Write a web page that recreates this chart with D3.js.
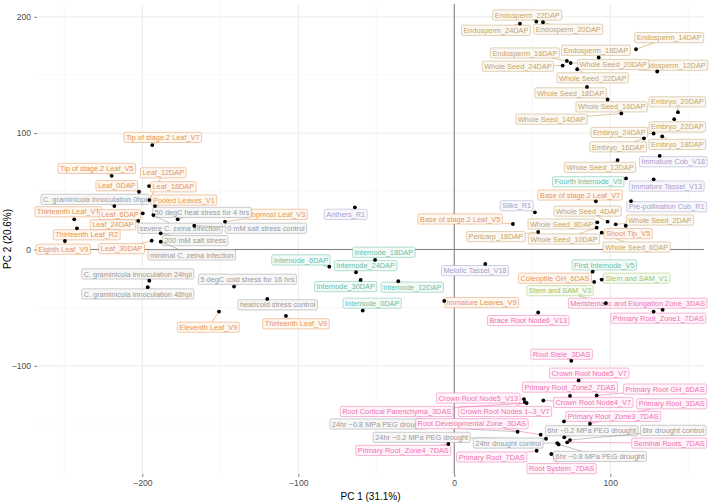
<!DOCTYPE html>
<html><head><meta charset="utf-8">
<script src="https://cdn.jsdelivr.net/npm/d3@7"></script>
<style>body{margin:0;background:#fff} svg{display:block;font-family:"Liberation Sans",Arial,Helvetica,sans-serif}</style>
</head><body><svg id="c" width="709" height="503"></svg>
<script>
// ---- data ----
const samples = [
"Endosperm_22DAP","Endosperm_20DAP","Endosperm_24DAP","Endosperm_14DAP","Endosperm_18DAP","Endosperm_16DAP","Endosperm_12DAP",
"Whole Seed_20DAP","Whole Seed_24DAP","Whole Seed_22DAP","Whole Seed_18DAP","Whole Seed_16DAP","Whole Seed_14DAP",
"Embryo_20DAP","Embryo_22DAP","Embryo_24DAP","Embryo_16DAP","Embryo_18DAP","Whole Seed_12DAP","Whole Seed_4DAP",
"Whole Seed_2DAP","Whole Seed_8DAP","Pericarp_18DAP","Whole Seed_10DAP","Whole Seed_6DAP",
"Immature Cob_V18","Immature Tassel_V13","Pre-pollination Cob_R1","Silks_R1","Meiotic Tassel_V18","Anthers_R1",
"Fourth Internode_V9","First Internode_V5","Internode_6DAP","Internode_18DAP","Internode_24DAP","Internode_30DAP","Internode_12DAP","Internode_0DAP",
"Stem and SAM_V1","Stem and SAM_V3",
"Base of stage.2 Leaf_V7","Base of stage.2 Leaf_V5","Shoot Tip_V5","Coleoptile GH_6DAS","Immature Leaves_V9",
"Tip of stage.2 Leaf_V7","Tip of stage.2 Leaf_V5","Leaf_12DAP","Leaf_0DAP","Leaf_18DAP","Pooled Leaves_V1","Thirteenth Leaf_VT",
"Leaf_6DAP","Leaf_24DAP","Thirteenth Leaf_R2","Eighth Leaf_V9","Leaf_30DAP","Topmost Leaf_V3","Eleventh Leaf_V9","Thirteenth Leaf_V9",
"C. graminicola innoculation 0hpi","50 degC heat stress for 4 hrs","severe C. zeina infection","0 mM salt stress control",
"200 mM salt stress","minimal C. zeina infection","C. graminicola innoculation 24hpi","C. graminicola innoculation 48hpi",
"5 degC cold stress for 16 hrs","heat/cold stress control","24hr \u22120.8 MPa PEG drought","24hr \u22120.2 MPa PEG drought",
"24hr drought control","6hr \u22120.2 MPa PEG drought","6hr drought control","6hr \u22120.8 MPa PEG drought",
"Meristematic and Elongation Zone_3DAS","Primary Root_Zone1_7DAS","Brace Root Node6_V13","Root Stele_3DAS","Crown Root Node5_V7",
"Primary Root_Zone2_7DAS","Primary Root GH_6DAS","Crown Root Node5_V13","Crown Root Node4_V7","Primary Root_3DAS",
"Primary Root_Zone3_7DAS","Crown Root Nodes 1\u20133_V7","Root Cortical Parenchyma_3DAS","Root Developmental Zone_3DAS",
"Seminal Roots_7DAS","Primary Root_Zone4_7DAS","Primary Root_7DAS","Root System_7DAS"
];
const tissue = [
"seed","seed","seed","seed","seed","seed","seed",
"seed","seed","seed","seed","seed","seed",
"seed","seed","seed","seed","seed","seed","seed",
"seed","seed","seed","seed","seed",
"repro","repro","repro","repro","repro","repro",
"internode","internode","internode","internode","internode","internode","internode","internode",
"stem","stem",
"leaf","leaf","leaf","leaf","leaf",
"leaf","leaf","leaf","leaf","leaf","leaf","leaf",
"leaf","leaf","leaf","leaf","leaf","leaf","leaf","leaf",
"stress","stress","stress","stress",
"stress","stress","stress","stress",
"stress","stress","stress","stress",
"stress","stress","stress","stress",
"root","root","root","root","root",
"root","root","root","root","root",
"root","root","root","root",
"root","root","root","root"
];
const pc1 = [
52.6,56.9,42.1,116.5,92.6,72.2,130.1,
74.6,69.5,78.8,85.1,98.3,107.1,
143.4,141.0,127.8,121.6,133.3,104.7,98.3,
103.5,91.7,53.8,91.3,94.5,
131.7,127.8,113.3,51.7,19.9,-63.7,
110.1,88.7,-80.1,-50.8,-63.0,-60.0,-35.9,-58.7,
94.5,97.1,
90.8,37.6,109.9,89.7,-6.4,
-193.6,-219.6,-195.5,-202.1,-195.7,-191.9,-243.6,
-199.7,-202.6,-241.9,-249.6,-194.0,-147.0,-150.8,-107.9,
-217.9,-177.3,-192.9,-166.7,
-188.2,-188.2,-195.5,-196.5,
-141.2,-119.9,40.6,58.8,
66.0,70.5,74.2,66.9,
133.6,127.8,53.8,75.0,79.7,
74.2,91.3,44.7,57.1,87.0,
70.3,45.3,46.4,55.4,
72.4,-3.8,52.8,62.2
];
const pc2 = [
195.9,195.3,194.2,172.1,165.0,162.1,153.0,
160.3,158.1,154.9,139.7,128.9,116.9,
118.0,112.0,99.7,95.5,97.2,76.8,23.9,
21.6,23.3,15.0,18.7,14.4,
80.5,60.3,41.6,31.9,-12.4,36.2,
61.1,-19.1,-14.8,-9.0,-19.6,-26.2,-27.3,-52.5,
-25.9,-46.2,
41.4,21.9,20.4,-27.9,-44.2,
89.7,63.3,42.5,49.6,54.5,37.3,25.9,
31.1,24.5,18.2,7.3,7.6,23.9,-53.4,-57.1,
37.3,25.9,29.6,20.4,
13.9,6.7,-26.8,-32.4,
-31.9,-42.5,-156.7,-162.7,
-166.4,-161.5,-163.8,-167.6,
-51.9,-53.4,-54.2,-95.7,-112.6,
-125.8,-125.5,-128.6,-129.8,-149.8,
-147.8,-131.2,-132.0,-159.2,
-165.8,-167.2,-173.0,-175.8
];
// repelled label anchors (PC units)
const labelPC1 = [
46.8,73.1,26.7,137.8,90.8,45.3,140.4,
101.9,40.8,88.7,74.6,100.9,62.4,
143.0,143.0,105.8,105.1,143.0,93.4,85.5,
131.9,68.8,26.7,70.3,116.9,
140.4,136.2,136.2,40.0,13.3,-69.6,
85.9,96.2,-98.3,-45.1,-56.8,-69.6,-26.9,-52.6,
116.9,67.8,
80.6,3.7,111.5,64.6,17.6,
-186.9,-229.2,-186.5,-216.4,-180.1,-173.3,-247.4,
-214.3,-218.8,-235.6,-250.6,-213.2,-113.8,-157.7,-101.5,
-230.3,-161.7,-175.8,-120.7,
-166.2,-168.3,-202.9,-202.9,
-132.6,-113.2,-48.7,-20.9,
34.6,88.1,140.4,93.4,
117.6,130.8,47.4,68.8,86.5,
74.2,135.1,15.4,89.1,139.4,
101.9,32.5,-36.9,11.3,
137.8,-32.7,24.0,68.8
];
const labelPC2 = [
201.5,189.3,188.4,182.1,171.2,168.9,158.4,
159.0,157.5,147.5,134.6,122.6,112.0,
126.9,105.4,100.6,88.2,90.3,70.6,33.0,
25.3,21.9,11.0,9.0,2.1,
75.4,54.5,36.7,37.6,-18.2,30.2,
58.2,-13.3,-9.0,-2.4,-13.9,-31.9,-32.4,-46.2,
-24.7,-35.4,
46.8,26.2,13.6,-24.7,-45.7,
96.3,69.7,65.9,54.8,53.9,42.5,32.4,
29.8,21.2,12.6,0.2,0.7,30.2,-66.8,-63.9,
43.1,31.9,18.2,18.2,
7.6,-4.7,-21.0,-38.2,
-25.6,-47.6,-150.0,-161.5,
-166.4,-155.8,-155.5,-177.9,
-46.2,-59.1,-61.1,-90.0,-106.3,
-118.3,-120.0,-127.7,-131.5,-132.6,
-143.5,-139.2,-139.2,-149.8,
-166.4,-172.7,-178.4,-188.4
];
const xTicks = [-200,-100,0,100];
const yTicks = [-100,0,100,200];
const xMinor = [-250,-150,-50,50,150];
const yMinor = [-150,-50,50,150];
const xTitle = "PC 1 (31.1%)", yTitle = "PC 2 (20.6%)";
const groupNames = ["seed","leaf","internode","stem","repro","root","stress"];
const groupColors = ["#A6761D","#D95F02","#1B9E77","#66A61E","#7570B3","#E7298A","#666666"];

// ---- chart ----
const svg = d3.select("#c");
const W = 709, H = 503;
const m = {l:37, r:5, t:4, b:29};
const x = d3.scaleLinear().domain([-267.5,160.1]).range([m.l, W-m.r]);
const y = d3.scaleLinear().domain([-193,211]).range([H-m.b, m.t]);
const col = d3.scaleOrdinal().domain(groupNames).range(groupColors);
const fade = c => d3.interpolateRgb("#ffffff", c)(0.66);
const tint = c => d3.interpolateRgb("#ffffff", c)(0.05);
const fmt = d => d < 0 ? "\u2212" + Math.abs(d) : String(d);

const grid = svg.append("g");
grid.selectAll(".vm").data(xMinor).join("line")
  .attr("x1", d=>x(d)).attr("x2", d=>x(d)).attr("y1", y.range()[1]).attr("y2", y.range()[0])
  .attr("stroke","#f3f3f3").attr("stroke-width",0.6);
grid.selectAll(".hm").data(yMinor).join("line")
  .attr("y1", d=>y(d)).attr("y2", d=>y(d)).attr("x1", x.range()[0]).attr("x2", x.range()[1])
  .attr("stroke","#f3f3f3").attr("stroke-width",0.6);
grid.selectAll(".vM").data(xTicks).join("line")
  .attr("x1", d=>x(d)).attr("x2", d=>x(d)).attr("y1", y.range()[1]).attr("y2", y.range()[0])
  .attr("stroke","#ebebeb").attr("stroke-width",1);
grid.selectAll(".hM").data(yTicks).join("line")
  .attr("y1", d=>y(d)).attr("y2", d=>y(d)).attr("x1", x.range()[0]).attr("x2", x.range()[1])
  .attr("stroke","#ebebeb").attr("stroke-width",1);

// zero lines
svg.append("line").attr("x1",x(0)).attr("x2",x(0)).attr("y1",y.range()[1]).attr("y2",y.range()[0])
  .attr("stroke","#6e6e6e").attr("stroke-width",0.9);
svg.append("line").attr("y1",y(0)).attr("y2",y(0)).attr("x1",x.range()[0]).attr("x2",x.range()[1])
  .attr("stroke","#6e6e6e").attr("stroke-width",0.9);

// axes
const gx = svg.append("g").attr("transform",`translate(0,${H-m.b})`)
  .call(d3.axisBottom(x).tickValues(xTicks).tickSize(3).tickPadding(3).tickFormat(fmt));
const gy = svg.append("g").attr("transform",`translate(${m.l},0)`)
  .call(d3.axisLeft(y).tickValues(yTicks).tickSize(3).tickPadding(3).tickFormat(fmt));
[gx,gy].forEach(g=>{
  g.select(".domain").remove();
  g.selectAll(".tick line").attr("stroke","#333").attr("stroke-width",0.6);
  g.selectAll(".tick text").attr("fill","#4d4d4d").style("font-size","8.6px")
    .style("font-family","'Liberation Sans',Arial,sans-serif");
});
svg.append("text").attr("x",(x.range()[0]+x.range()[1])/2).attr("y",H-3)
  .attr("text-anchor","middle").style("font-size","10px").attr("fill","#000").text(xTitle);
svg.append("text").attr("transform",`translate(11,${(y.range()[0]+y.range()[1])/2}) rotate(-90)`)
  .attr("text-anchor","middle").style("font-size","10px").attr("fill","#000").text(yTitle);

// labels
const rows = samples.map((s,i)=>({name:s, g:tissue[i], px:x(pc1[i]), py:y(pc2[i]), lx:x(labelPC1[i]), ly:y(labelPC2[i])}));
const FS = 7.35, PADX = 2, BH = 10.2;
const lg = svg.append("g").style("font-size", FS+"px");
rows.forEach(r=>{
  const c = col(r.g);
  const g = lg.append("g");
  const seg = g.append("line");
  const rect = g.append("rect");
  const t = g.append("text").attr("x", r.lx).attr("y", r.ly + FS*0.36)
    .attr("text-anchor","middle").attr("fill", fade(c)).text(r.name);
  const tw = t.node().getComputedTextLength();
  const bw = tw + 2*PADX;
  rect.attr("x", r.lx - bw/2).attr("y", r.ly - BH/2).attr("width", bw).attr("height", BH)
    .attr("rx",1.5).attr("ry",1.5).attr("fill", tint(c)).attr("stroke", fade(c)).attr("stroke-width",0.5);
  // segment from point to box edge
  const dx = r.px - r.lx, dy = r.py - r.ly;
  const hw = bw/2, hh = BH/2;
  const tt = Math.min(dx===0?Infinity:hw/Math.abs(dx), dy===0?Infinity:hh/Math.abs(dy));
  if (tt < 1) {
    const ex = r.lx + dx*tt, ey = r.ly + dy*tt;
    const len = Math.hypot(r.px-ex, r.py-ey);
    if (len > 2.5) {
      seg.attr("x1", r.px).attr("y1", r.py).attr("x2", ex).attr("y2", ey)
        .attr("stroke", fade(c)).attr("stroke-width",0.6);
    } else seg.remove();
  } else seg.remove();
});

// points
svg.append("g").selectAll("circle").data(rows).join("circle")
  .attr("cx", d=>d.px).attr("cy", d=>d.py).attr("r", 1.9).attr("fill","#000");
</script></body></html>
